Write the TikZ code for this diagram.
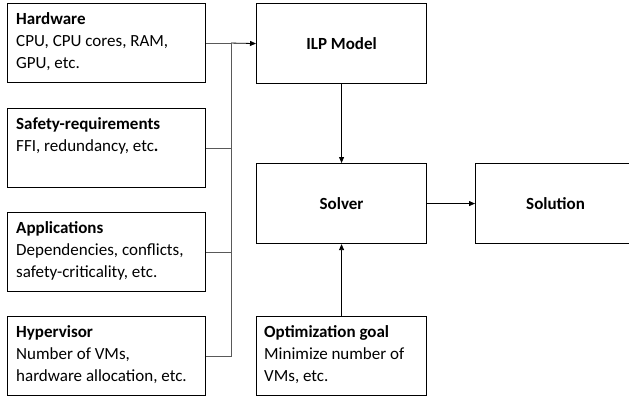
\documentclass[tikz,border=0pt]{standalone}
\usepackage{fontspec}
\setmainfont{Carlito}
\usetikzlibrary{arrows.meta,calc}
\begin{document}
\begin{tikzpicture}[x=1pt,y=-1pt,
  box/.style={draw=black,line width=1.1pt,rectangle,inner sep=0pt,anchor=north west,minimum width=198pt,minimum height=79pt},
  cbox/.style={draw=black,line width=1.1pt,rectangle,inner sep=0pt,anchor=north west,minimum width=170pt,minimum height=80pt,font=\fontsize{17}{22}\selectfont\bfseries},
  txt/.style={anchor=north west,inner sep=0pt,align=left},
  conn/.style={draw=black!65,line width=0.8pt},
  arr/.style={draw=black,line width=0.8pt,-{Triangle[length=6pt,width=5pt]}},
  every node/.append style={font=\fontsize{17}{22}\selectfont}
]
\clip (0,0) rectangle (629,401);
\fill[white] (0,0) rectangle (629,401);
% left boxes
\node[box] (hw) at (7,3) {};
\node[box] (sr) at (7,108) {};
\node[box] (app) at (7,212) {};
\node[box] (hyp) at (7,316) {};
\node[txt] (hwt) at ($(hw.north west)+(9,9.5)$) {\textbf{Hardware}\\CPU, CPU cores, RAM,\\GPU, etc.};
\node[txt] (srt) at ($(sr.north west)+(9,9.5)$) {\textbf{Safety-requirements}\\FFI, redundancy, etc\textbf{.}};
\node[txt] (appt) at ($(app.north west)+(9,9.5)$) {\textbf{Applications}\\Dependencies, conflicts,\\safety-criticality, etc.};
\node[txt] (hypt) at ($(hyp.north west)+(9,9.5)$) {\textbf{Hypervisor}\\Number of VMs,\\hardware allocation, etc.};
% center boxes
\node[cbox] (ilp) at (256,3) {ILP Model};
\node[cbox] (solver) at (256,163) {Solver};
\node[cbox,minimum width=160pt] (sol) at (475,163) {Solution};
\node[box,minimum width=170pt] (opt) at (256,316) {};
\node[txt] (optt) at ($(opt.north west)+(8,9.5)$) {\textbf{Optimization goal}\\Minimize number of\\VMs, etc.};
% connectors
\coordinate (bus) at (231,43);
\draw[conn] (hw.east) -- (hw.east -| bus);
\draw[arr] (hw.east -| bus) -- (ilp.west);
\draw[conn] (hw.east -| bus) -- (hyp.east -| bus) -- (hyp.east);
\draw[conn] (sr.east) -- (sr.east -| bus);
\draw[conn] (app.east) -- (app.east -| bus);
\draw[arr] (ilp.south) -- (solver.north);
\draw[arr] (solver.east) -- (sol.west);
\draw[arr] (opt.north) -- (solver.south);
\end{tikzpicture}
\end{document}
